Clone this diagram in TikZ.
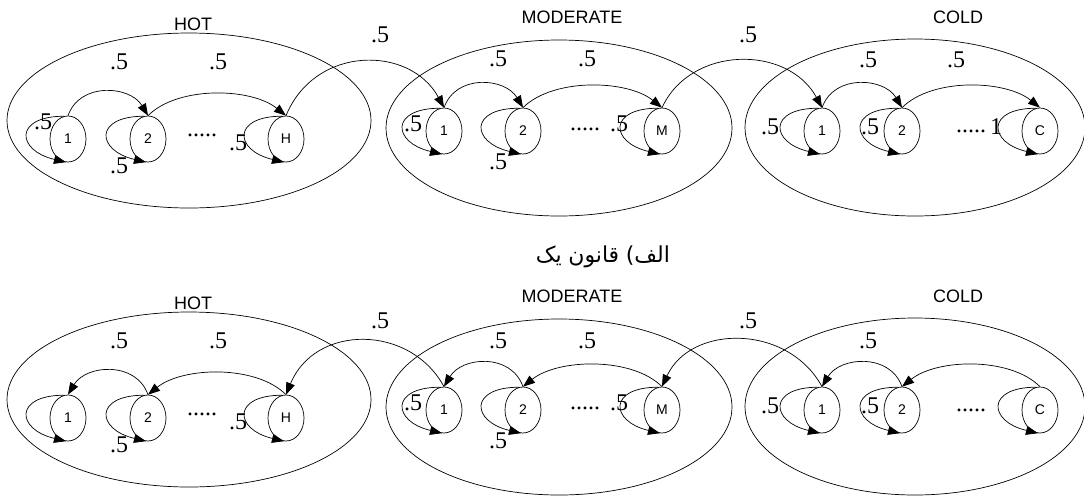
\documentclass[tikz,border=0pt]{standalone}
\usepackage{fontspec}
\setmainfont{Liberation Serif}
\newfontfamily\arialf{Liberation Sans}
\newfontfamily\arabicf[Script=Arabic]{DejaVu Sans}
\usetikzlibrary{shapes.geometric,arrows.meta}
\tikzset{
  state/.style={ellipse, draw, line width=0.7pt, minimum width=36pt, minimum height=46pt, inner sep=0pt, font=\arialf\fontsize{14}{14}\selectfont},
  group/.style={ellipse, draw, line width=0.7pt, inner sep=0pt},
  prob/.style={inner sep=0pt, font=\fontsize{24}{24}\selectfont},
  title/.style={inner sep=0pt, font=\arialf\fontsize{18}{18}\selectfont},
  arr/.style={-{Triangle[length=12pt,width=9pt]}, line width=0.7pt},
}
\begin{document}
\begin{tikzpicture}[x=1pt,y=-1pt]
\useasboundingbox (0,0) rectangle (1084,496);
% ================= top row =================
\node[group, minimum width=364pt, minimum height=175pt] (gH) at (189,120.5) {};
\node[group, minimum width=346pt, minimum height=176pt] (gM) at (559,128) {};
\node[group, minimum width=340pt, minimum height=177pt] (gC) at (915,127.5) {};
\node[title] (tH) at (193,24) {HOT};
\node[title] (tM) at (572,17) {MODERATE};
\node[title] (tC) at (958,17) {COLD};
\node[state] (h1) at (68,139) {1};
\node[state] (h2) at (148,139) {2};
\node[state] (hH) at (286,139) {H};
\node[state] (m1) at (444,131) {1};
\node[state] (m2) at (523,131) {2};
\node[state] (mM) at (662,131) {M};
\node[state] (c1) at (822,131) {1};
\node[state] (c2) at (902,131) {2};
\node[state] (cC) at (1040,131) {C};
\foreach \n in {h1,h2,hH,m1,m2,mM,c1,c2,cC}
  \draw[arr] (\n.100) .. controls +(-50,0) and +(-50,-12) .. (\n.265);
\draw[arr] (h1.north) .. controls +(12,-34) and +(-18,-30) .. (h2.north);
\draw[arr] (h2.north) .. controls +(30,-30) and +(-35,-28) .. (hH.north);
\draw[arr] (m1.north) .. controls +(12,-34) and +(-18,-30) .. (m2.north);
\draw[arr] (m2.north) .. controls +(30,-30) and +(-35,-28) .. (mM.north);
\draw[arr] (c1.north) .. controls +(12,-34) and +(-18,-30) .. (c2.north);
\draw[arr] (c2.north) .. controls +(30,-30) and +(-35,-28) .. (cC.north);
\draw[arr] (hH.north) .. controls (315,45) and (410,45) .. (m1.north);
\draw[arr] (mM.north) .. controls (691,45) and (788,45) .. (c1.north);
\node[prob] (p1) at (119,62) {.5};
\node[prob] (p2) at (218,62) {.5};
\node[prob] (p3) at (43,122) {.5};
\node[prob] (p4) at (119,166) {.5};
\node[prob] (p5) at (238,143) {.5};
\node[prob, anchor=base] (d1) at (202,136) {.....};
\node[prob] (p6) at (380,35) {.5};
\node[prob] (p7) at (748,35) {.5};
\node[prob] (p8) at (498,59) {.5};
\node[prob] (p9) at (587,59) {.5};
\node[prob] (p10) at (413,124) {.5};
\node[prob] (p11) at (498,162) {.5};
\node[prob] (p12) at (619,124) {.5};
\node[prob, anchor=base] (d2) at (585,130) {.....};
\node[prob] (p13) at (868,60) {.5};
\node[prob] (p14) at (956,60) {.5};
\node[prob] (p15) at (770,127) {.5};
\node[prob] (p16) at (870,127) {.5};
\node[prob, anchor=base] (d3) at (971,132) {.....};
\node[prob] (p17) at (996,127) {1};
% caption
\node[inner sep=0pt, font=\arabicf\fontsize{22}{22}\selectfont] (cap) at (603,257) {\hbox{یک}\hspace{0.3em}\hbox{قانون}\hspace{0.3em}\hbox{)}\hbox{الف}};
% ================= bottom row =================
\begin{scope}[yshift=-279pt]
\node[group, minimum width=364pt, minimum height=175pt] (bgH) at (189,120.5) {};
\node[group, minimum width=346pt, minimum height=176pt] (bgM) at (559,128) {};
\node[group, minimum width=340pt, minimum height=177pt] (bgC) at (915,127.5) {};
\node[title] (btH) at (193,24) {HOT};
\node[title] (btM) at (572,17) {MODERATE};
\node[title] (btC) at (958,17) {COLD};
\node[state] (bh1) at (68,139) {1};
\node[state] (bh2) at (148,139) {2};
\node[state] (bhH) at (286,139) {H};
\node[state] (bm1) at (444,131) {1};
\node[state] (bm2) at (523,131) {2};
\node[state] (bmM) at (662,131) {M};
\node[state] (bc1) at (822,131) {1};
\node[state] (bc2) at (902,131) {2};
\node[state] (bcC) at (1040,131) {C};
\foreach \n in {bh1,bh2,bhH,bm1,bm2,bmM,bc1,bc2,bcC}
  \draw[arr] (\n.100) .. controls +(-50,0) and +(-50,-12) .. (\n.265);
\draw[arr] (bh2.north) .. controls +(-12,-34) and +(18,-30) .. (bh1.north);
\draw[arr] (bhH.north) .. controls +(-30,-30) and +(35,-28) .. (bh2.north);
\draw[arr] (bm2.north) .. controls +(-12,-34) and +(18,-30) .. (bm1.north);
\draw[arr] (bmM.north) .. controls +(-30,-30) and +(35,-28) .. (bm2.north);
\draw[arr] (bc2.north) .. controls +(-12,-34) and +(18,-30) .. (bc1.north);
\draw[arr] (bcC.north) .. controls +(-30,-30) and +(35,-28) .. (bc2.north);
\draw[arr] (bm1.north) .. controls (410,45) and (315,45) .. (bhH.north);
\draw[arr] (bc1.north) .. controls (788,45) and (691,45) .. (bmM.north);
\node[prob] (bp1) at (119,62) {.5};
\node[prob] (bp2) at (218,62) {.5};
\node[prob] (bp4) at (119,166) {.5};
\node[prob] (bp5) at (238,143) {.5};
\node[prob, anchor=base] (bd1) at (202,136) {.....};
\node[prob] (bp6) at (380,42) {.5};
\node[prob] (bp7) at (748,42) {.5};
\node[prob] (bp8) at (498,62) {.5};
\node[prob] (bp9) at (587,62) {.5};
\node[prob] (bp10) at (413,124) {.5};
\node[prob] (bp11) at (498,162) {.5};
\node[prob] (bp12) at (619,124) {.5};
\node[prob, anchor=base] (bd2) at (585,130) {.....};
\node[prob] (bp13) at (868,62) {.5};
\node[prob] (bp15) at (770,127) {.5};
\node[prob] (bp16) at (870,127) {.5};
\node[prob, anchor=base] (bd3) at (971,132) {.....};
\end{scope}
\end{tikzpicture}
\end{document}
